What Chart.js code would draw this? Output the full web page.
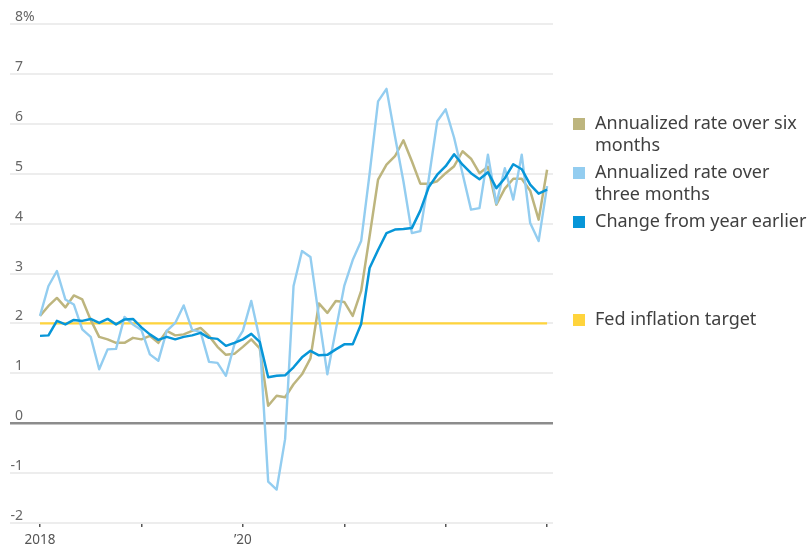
<!DOCTYPE html>
<html>
<head>
<meta charset="utf-8">
<script src="https://cdn.jsdelivr.net/npm/chart.js@4.4.1/dist/chart.umd.min.js"></script>
<style>
  html, body { margin: 0; padding: 0; background: #fff; }
  #wrap { position: relative; width: 808px; height: 556px; overflow: hidden; }
  #chart { position: absolute; left: 0; top: 0; }
  .item { position: absolute; left: 573px; font-family: "Noto Sans", Roboto, sans-serif; font-size: 18px; line-height: 22px; color: #404040; white-space: nowrap; }
  .item .sw { position: absolute; left: 0; top: 6px; width: 12px; height: 12px; }
  .item .tx { position: absolute; left: 22px; top: -1px; }
</style>
</head>
<body>
<div id="wrap">
  <canvas id="chart" width="808" height="556"></canvas>
  <div id="legend"></div>
</div>
<script>
// Monthly observations, January 2018 through January 2023
const months = [];
for (let yr = 2018; yr <= 2023; yr++) {
  for (let m = 1; m <= 12; m++) {
    if (yr === 2023 && m > 1) break;
    months.push(yr + '-' + String(m).padStart(2, '0'));
  }
}

// Annualized rate over six months, %
const sixMonthRate = [
  2.15, 2.35, 2.51, 2.32, 2.56, 2.48, 2.07, 1.73, 1.68, 1.61, 1.61, 1.71,
  1.68, 1.75, 1.61, 1.85, 1.76, 1.78, 1.85, 1.91, 1.75, 1.53, 1.37, 1.39,
  1.53, 1.68, 1.50, 0.35, 0.55, 0.52, 0.78, 0.98, 1.30, 2.40, 2.21, 2.45,
  2.43, 2.15, 2.65, 3.75, 4.88, 5.18, 5.35, 5.67, 5.25, 4.80, 4.80, 4.85,
  5.01, 5.15, 5.45, 5.30, 5.01, 5.14, 4.38, 4.70, 4.90, 4.90, 4.66, 4.08,
  5.08
];

// Annualized rate over three months, %
const threeMonthRate = [
  2.15, 2.75, 3.05, 2.48, 2.38, 1.88, 1.73, 1.08, 1.48, 1.49, 2.13, 1.98,
  1.87, 1.38, 1.25, 1.85, 2.01, 2.36, 1.87, 1.83, 1.23, 1.21, 0.95, 1.58,
  1.85, 2.45, 1.68, -1.17, -1.33, -0.32, 2.75, 3.45, 3.33, 2.13, 0.98, 1.87,
  2.75, 3.27, 3.65, 5.00, 6.45, 6.70, 5.75, 4.85, 3.81, 3.85, 4.90, 6.05,
  6.29, 5.72, 5.00, 4.28, 4.31, 5.38, 4.40, 5.11, 4.48, 5.38, 4.01, 3.65,
  4.75
];

// Change from a year earlier, %
const yearOverYear = [
  1.75, 1.76, 2.05, 1.98, 2.07, 2.05, 2.09, 2.01, 2.09, 1.98, 2.08, 2.09,
  1.92, 1.78, 1.67, 1.73, 1.68, 1.73, 1.76, 1.81, 1.71, 1.69, 1.55, 1.61,
  1.68, 1.79, 1.63, 0.92, 0.95, 0.96, 1.12, 1.32, 1.45, 1.36, 1.37, 1.48,
  1.58, 1.58, 1.99, 3.11, 3.47, 3.81, 3.88, 3.89, 3.91, 4.26, 4.73, 4.98,
  5.15, 5.39, 5.18, 5.01, 4.89, 5.03, 4.71, 4.91, 5.19, 5.09, 4.78, 4.60,
  4.68
];

// Fed inflation target, %
const fedTarget = 2;

// Axis ticks
const yTickValues = [-2, -1, 0, 1, 2, 3, 4, 5, 6, 7, 8];
const xTickPositions = [0, 12, 24, 36, 48, 60];
const xTickLabels = ['2018', '', '\u201920', '', '', ''];

const COLORS = {
  six: '#bdb57e',
  three: '#93cdf0',
  yoy: '#0796d8',
  fed: '#ffd43c'
};

const series = [
  { label: 'Change from year earlier', values: yearOverYear, color: COLORS.yoy, width: 2.5, order: 0 },
  { label: 'Annualized rate over three months', values: threeMonthRate, color: COLORS.three, width: 2.4, order: 1 },
  { label: 'Annualized rate over six months', values: sixMonthRate, color: COLORS.six, width: 2.5, order: 2 },
  { label: 'Fed inflation target', values: months.map(() => fedTarget), color: COLORS.fed, width: 2.2, order: 3 }
];

const datasets = series.map(s => ({
  label: s.label,
  data: s.values.map((v, i) => ({ x: i, y: v })),
  borderColor: s.color,
  backgroundColor: s.color,
  borderWidth: s.width,
  pointRadius: 0,
  tension: 0,
  fill: false,
  order: s.order,
  borderJoinStyle: 'round',
  borderCapStyle: 'butt'
}));

// Y tick labels sit just above their gridlines, inside the plot
const yLabelPlugin = {
  id: 'yLabels',
  beforeDatasetsDraw(chart) {
    const { ctx, scales: { y } } = chart;
    ctx.save();
    ctx.font = '14px "Noto Sans", Roboto, sans-serif';
    ctx.fillStyle = '#666';
    ctx.textBaseline = 'alphabetic';
    const top = yTickValues[yTickValues.length - 1];
    yTickValues.forEach(v => {
      const py = y.getPixelForValue(v) - 3;
      ctx.textAlign = 'right';
      ctx.fillText(String(v), 23, py);
      if (v === top) {
        ctx.textAlign = 'left';
        ctx.fillText('%', 23, py);
      }
    });
    ctx.restore();
  }
};

new Chart(document.getElementById('chart'), {
  type: 'line',
  data: { datasets },
  options: {
    responsive: false,
    animation: false,
    devicePixelRatio: 1,
    layout: { padding: { left: 10, right: 255, top: 24, bottom: 0 } },
    plugins: { legend: { display: false }, tooltip: { enabled: false } },
    scales: {
      x: {
        type: 'linear',
        min: -3.55,
        max: 60.7,
        afterBuildTicks: scale => { scale.ticks = xTickPositions.map(v => ({ value: v })); },
        afterFit: scale => { scale.height = 33; },
        ticks: {
          autoSkip: false,
          maxRotation: 0,
          padding: 5,
          color: '#555',
          font: { family: '"Noto Sans", Roboto, sans-serif', size: 13.5 },
          callback: (v, i) => xTickLabels[i]
        },
        grid: { drawOnChartArea: false, drawTicks: true, tickLength: 4, color: '#555', lineWidth: 1.5 },
        border: { display: false }
      },
      y: {
        min: -2,
        max: 8,
        afterBuildTicks: scale => { scale.ticks = yTickValues.map(v => ({ value: v })); },
        afterFit: scale => { scale.width = 0; },
        ticks: { display: false },
        grid: {
          drawTicks: false,
          color: c => (c.tick && c.tick.value === 0 ? '#8c8c8c' : '#ededed'),
          lineWidth: c => (c.tick && c.tick.value === 0 ? 2.5 : 2)
        },
        border: { display: false }
      }
    }
  },
  plugins: [yLabelPlugin]
});

// Legend beside the plot
const legendItems = [
  { lines: ['Annualized rate over six', 'months'], color: COLORS.six, top: 112 },
  { lines: ['Annualized rate over', 'three months'], color: COLORS.three, top: 161 },
  { lines: ['Change from year earlier'], color: COLORS.yoy, top: 210 },
  { lines: ['Fed inflation target'], color: COLORS.fed, top: 308 }
];
const legendEl = document.getElementById('legend');
legendItems.forEach(it => {
  const d = document.createElement('div');
  d.className = 'item';
  d.style.top = it.top + 'px';
  const sw = document.createElement('div');
  sw.className = 'sw';
  sw.style.background = it.color;
  const tx = document.createElement('div');
  tx.className = 'tx';
  tx.innerHTML = it.lines.join('<br>');
  d.appendChild(sw);
  d.appendChild(tx);
  legendEl.appendChild(d);
});
</script>
</body>
</html>
